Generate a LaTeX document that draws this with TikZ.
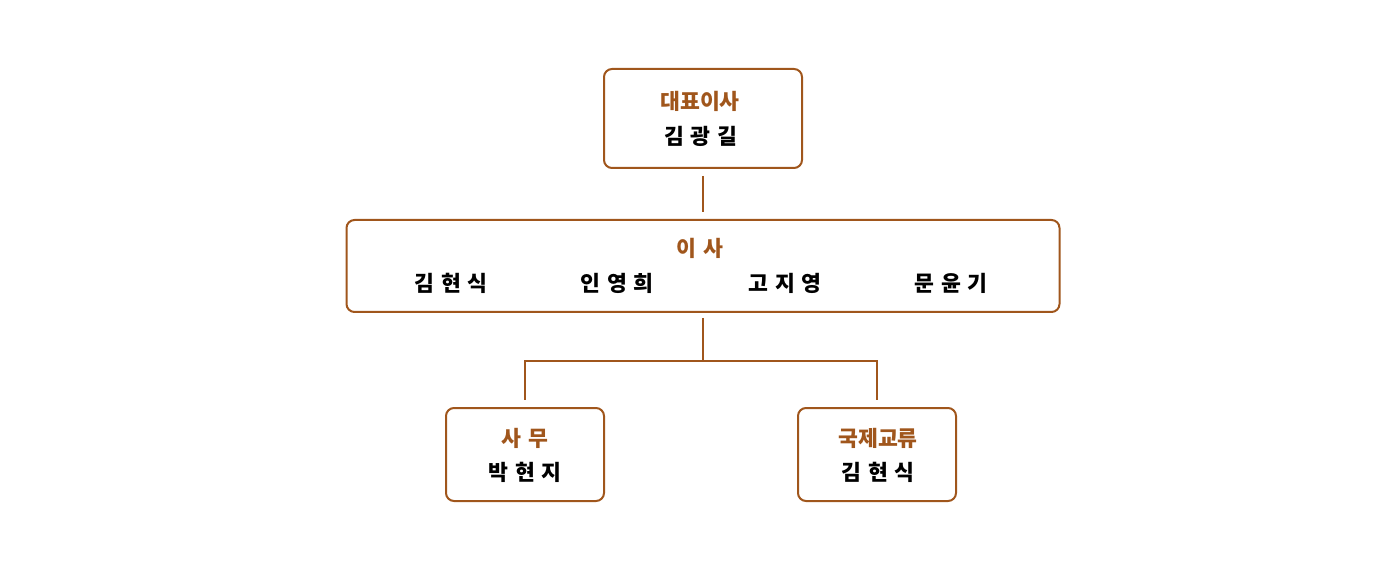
\documentclass[tikz,border=0pt]{standalone}
\usepackage{fontspec}
\setmainfont{Noto Sans CJK KR}
\definecolor{brn}{HTML}{A0561C}
\newcommand{\gp}{\hspace{3.3pt}}
\begin{document}
\begin{tikzpicture}[x=0.5pt,y=-0.5pt,
  box/.style={draw=brn,line width=1pt,rounded corners=4pt,inner sep=0pt},
  ttl/.style={text=brn,font=\fontsize{10.8}{12}\selectfont\bfseries,inner sep=0pt},
  nm/.style={text=black,font=\fontsize{10.8}{12}\selectfont\bfseries,inner sep=0pt},
  conn/.style={draw=brn,line width=1pt}]
\useasboundingbox (0,0) rectangle (1400,576);
\node[box,minimum width=99pt,minimum height=49.5pt] (top) at (703,118.5) {};
\node[box,minimum width=356.5pt,minimum height=46pt] (mid) at (703,266) {};
\node[box,minimum width=79pt,minimum height=46.5pt] (bl) at (525,454.5) {};
\node[box,minimum width=79pt,minimum height=46.5pt] (br) at (877,454.5) {};
\node[ttl] (t1) at (700,101.5) {대표이사};
\node[nm] (n1) at (700.5,136.5) {김\gp 광\gp 길};
\node[ttl] (t2) at (700,248.5) {이\gp 사};
\node[nm] (n2a) at (451,283.5) {김\gp 현\gp 식};
\node[nm] (n2b) at (617,283.5) {인\gp 영\gp 희};
\node[nm] (n2c) at (785,283.5) {고\gp 지\gp 영};
\node[nm] (n2d) at (951,283.5) {문\gp 윤\gp 기};
\node[ttl] (t3) at (525,438.5) {사\gp 무};
\node[nm] (n3) at (525,472.5) {박\gp 현\gp 지};
\node[ttl] (t4) at (878,438.5) {국제교류};
\node[nm] (n4) at (878,472.5) {김\gp 현\gp 식};
\coordinate (j) at (703,361);
\draw[conn,shorten <=3.5pt,shorten >=3.5pt] (top.south) -- (mid.north);
\draw[conn,shorten <=2.5pt] (mid.south) -- (j);
\draw[conn,shorten >=3.5pt] (j) -| (bl.north);
\draw[conn,shorten >=3.5pt] (j) -| (br.north);
\end{tikzpicture}
\end{document}
